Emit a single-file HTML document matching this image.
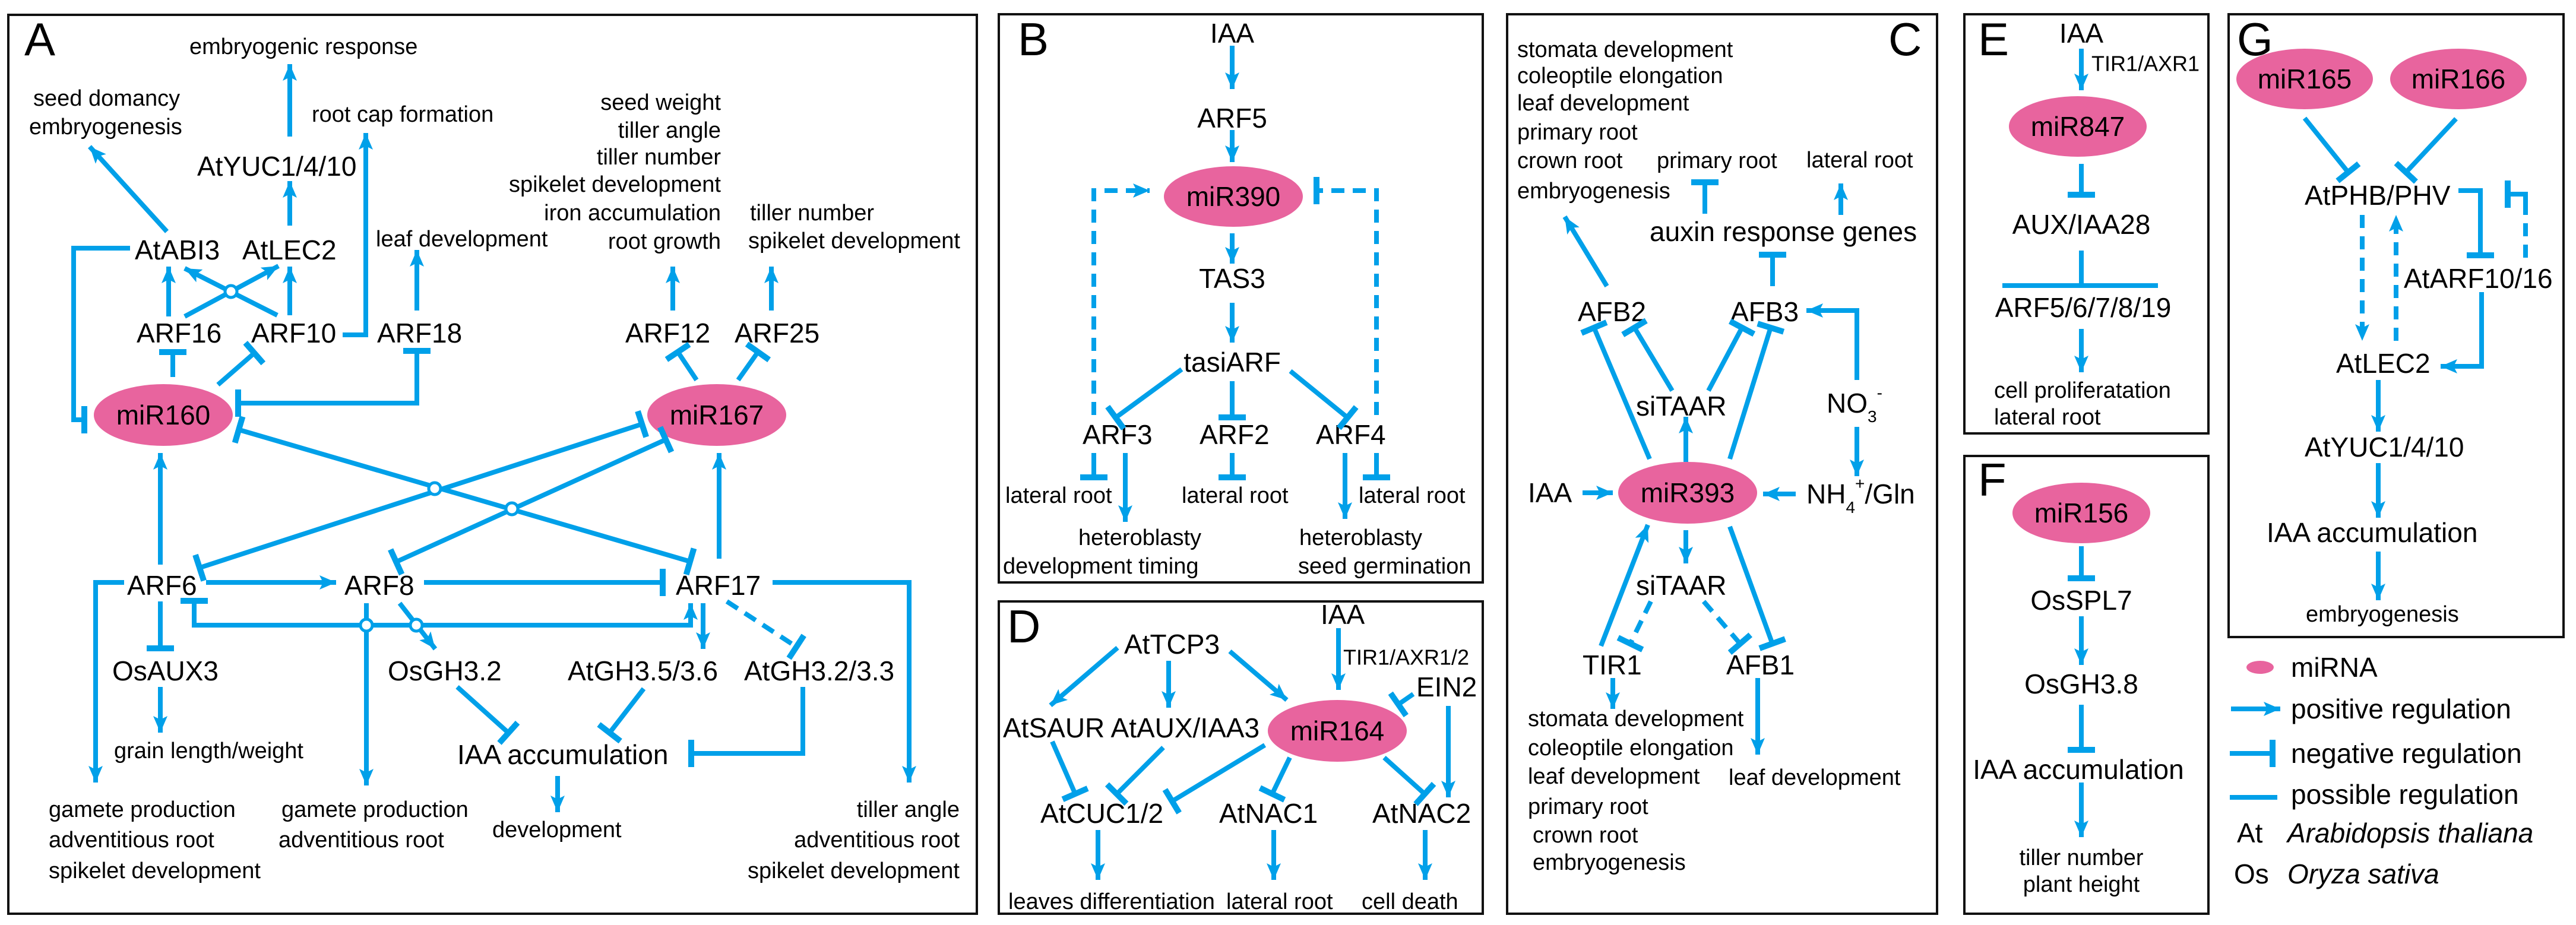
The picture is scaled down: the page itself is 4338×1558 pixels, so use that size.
<!DOCTYPE html>
<html><head><meta charset="utf-8"><style>
html,body{margin:0;padding:0;background:#fff}
svg{display:block}
text{font-family:"Liberation Sans",Arial,sans-serif;fill:#000;dominant-baseline:central}
.s{font-size:38px}.n{font-size:46px}.p{font-size:78px}
.l{stroke:#00a0e9;stroke-width:8;fill:none}
.a{marker-end:url(#ar)}.t{marker-end:url(#tb)}.ts{marker-start:url(#tb)}
.d{stroke-dasharray:22 14}
.e{fill:#e8649e}
.h{fill:#fff;stroke:#00a0e9;stroke-width:5}
.b{fill:none;stroke:#111;stroke-width:4}
</style></head><body>
<svg width="4338" height="1558" viewBox="0 0 4338 1558" xmlns="http://www.w3.org/2000/svg">
<defs>
<marker id="ar" markerUnits="userSpaceOnUse" markerWidth="30" markerHeight="26" refX="28" refY="13" orient="auto"><path d="M0,1 L28,13 L0,25 L6,13 z" fill="#00a0e9"/></marker>
<marker id="tb" markerUnits="userSpaceOnUse" markerWidth="12" markerHeight="46" refX="6" refY="23" orient="auto"><rect x="0" y="0" width="10" height="46" fill="#00a0e9"/></marker>
</defs>
<!-- borders -->
<rect class="b" x="14" y="25" width="1631" height="1514"/>
<rect class="b" x="1682" y="24" width="815" height="957"/>
<rect class="b" x="1682" y="1013" width="815" height="526"/>
<rect class="b" x="2538" y="24" width="724" height="1515"/>
<rect class="b" x="3308" y="24" width="411" height="706"/>
<rect class="b" x="3308" y="768" width="411" height="771"/>
<rect class="b" x="3753" y="24" width="564" height="1049"/>

<!-- PANEL A -->
<text class="p" x="41" y="66">A</text>
<text class="s" x="319" y="79">embryogenic response</text>
<text class="s" x="56" y="166">seed domancy</text>
<text class="s" x="49" y="214">embryogenesis</text>
<text class="s" x="525" y="193">root cap formation</text>
<text class="n" x="332" y="280">AtYUC1/4/10</text>
<text class="n" x="227" y="421">AtABI3</text>
<text class="n" x="408" y="421">AtLEC2</text>
<text class="s" x="633" y="403">leaf development</text>
<g class="s" text-anchor="end">
<text class="s" x="1214" y="173">seed weight</text>
<text class="s" x="1214" y="220">tiller angle</text>
<text class="s" x="1214" y="265">tiller number</text>
<text class="s" x="1214" y="311">spikelet development</text>
<text class="s" x="1214" y="359">iron accumulation</text>
<text class="s" x="1214" y="407">root growth</text>
</g>
<text class="s" x="1263" y="359">tiller number</text>
<text class="s" x="1260" y="406">spikelet development</text>
<text class="n" x="230" y="561">ARF16</text>
<text class="n" x="423" y="561">ARF10</text>
<text class="n" x="635" y="561">ARF18</text>
<text class="n" x="1053" y="561">ARF12</text>
<text class="n" x="1237" y="561">ARF25</text>
<ellipse class="e" cx="275" cy="699" rx="117" ry="52"/>
<text class="n" x="275" y="699" text-anchor="middle">miR160</text>
<ellipse class="e" cx="1207" cy="699" rx="117" ry="52"/>
<text class="n" x="1207" y="699" text-anchor="middle">miR167</text>
<text class="n" x="214" y="986">ARF6</text>
<text class="n" x="580" y="986">ARF8</text>
<text class="n" x="1138" y="986">ARF17</text>
<text class="n" x="189" y="1130">OsAUX3</text>
<text class="n" x="653" y="1130">OsGH3.2</text>
<text class="n" x="956" y="1130">AtGH3.5/3.6</text>
<text class="n" x="1253" y="1130">AtGH3.2/3.3</text>
<text class="s" x="192" y="1265">grain length/weight</text>
<text class="n" x="770" y="1271">IAA accumulation</text>
<text class="s" x="829" y="1398">development</text>
<text class="s" x="82" y="1364">gamete production</text>
<text class="s" x="82" y="1415">adventitious root</text>
<text class="s" x="82" y="1467">spikelet development</text>
<text class="s" x="474" y="1364">gamete production</text>
<text class="s" x="469" y="1415">adventitious root</text>
<text class="s" x="1616" y="1364" text-anchor="end">tiller angle</text>
<text class="s" x="1616" y="1415" text-anchor="end">adventitious root</text>
<text class="s" x="1616" y="1467" text-anchor="end">spikelet development</text>

<line class="l a" x1="488" y1="230" x2="488" y2="108"/>
<line class="l a" x1="488" y1="380" x2="488" y2="305"/>
<line class="l a" x1="281" y1="390" x2="151" y2="247"/>
<line class="l a" x1="284" y1="533" x2="284" y2="449"/>
<line class="l a" x1="488" y1="531" x2="488" y2="449"/>
<line class="l a" x1="311" y1="533" x2="469" y2="448"/>
<line class="l a" x1="467" y1="531" x2="311" y2="452"/>
<circle class="h" cx="389" cy="491" r="10"/>
<polyline class="l a" points="577,564 616,564 616,224"/>
<line class="l a" x1="702" y1="523" x2="702" y2="421"/>
<line class="l t" x1="291" y1="635" x2="291" y2="592"/>
<line class="l t" x1="367" y1="648" x2="429" y2="594"/>
<polyline class="l ts t" points="702,592 702,679 400,679"/>
<polyline class="l t" points="219,418 124,418 124,707 143,707"/>
<line class="l t" x1="1173" y1="640" x2="1141" y2="592"/>
<line class="l t" x1="1243" y1="640" x2="1277" y2="592"/>
<line class="l a" x1="1133" y1="523" x2="1133" y2="449"/>
<line class="l a" x1="1299" y1="523" x2="1299" y2="449"/>
<line class="l ts t" x1="403" y1="724" x2="1163" y2="946"/>
<line class="l ts t" x1="337" y1="956" x2="1082" y2="714"/>
<line class="l ts t" x1="668" y1="946" x2="1122" y2="740"/>
<circle class="h" cx="732" cy="823" r="10"/>
<circle class="h" cx="862" cy="857" r="10"/>
<line class="l a" x1="270" y1="951" x2="270" y2="763"/>
<line class="l a" x1="1211" y1="941" x2="1211" y2="763"/>
<line class="l a" x1="347" y1="981" x2="566" y2="981"/>
<line class="l t" x1="714" y1="981" x2="1117" y2="981"/>
<polyline class="l a" points="1301,981 1531,981 1531,1318"/>
<polyline class="l a" points="209,981 161,981 161,1318"/>
<polyline class="l ts a" points="327,1013 327,1053 1163,1053 1163,1016"/>
<line class="l t" x1="270" y1="1013" x2="270" y2="1093"/>
<line class="l a" x1="270" y1="1157" x2="270" y2="1234"/>
<line class="l a" x1="617" y1="1016" x2="617" y2="1323"/>
<line class="l a" x1="673" y1="1016" x2="733" y2="1093"/>
<circle class="h" cx="617" cy="1053" r="10"/>
<circle class="h" cx="701" cy="1053" r="10"/>
<line class="l a" x1="1184" y1="1016" x2="1184" y2="1093"/>
<line class="l t d" x1="1224" y1="1013" x2="1342" y2="1090"/>
<line class="l t" x1="770" y1="1157" x2="857" y2="1235"/>
<line class="l t" x1="1084" y1="1160" x2="1026" y2="1235"/>
<polyline class="l t" points="1352,1157 1352,1269 1163,1269"/>
<line class="l a" x1="939" y1="1307" x2="939" y2="1368"/>

<!-- PANEL B -->
<text class="p" x="1714" y="66">B</text>
<g text-anchor="middle">
<text class="n" x="2075" y="56" text-anchor="middle">IAA</text>
<text class="n" x="2075" y="199" text-anchor="middle">ARF5</text>
<ellipse class="e" cx="2077" cy="331" rx="117" ry="51"/>
<text class="n" x="2077" y="331" text-anchor="middle">miR390</text>
<text class="n" x="2075" y="469" text-anchor="middle">TAS3</text>
<text class="n" x="2075" y="610" text-anchor="middle">tasiARF</text>
</g>
<text class="n" x="1823" y="732">ARF3</text>
<text class="n" x="2020" y="732">ARF2</text>
<text class="n" x="2216" y="732">ARF4</text>
<text class="s" x="1693" y="835">lateral root</text>
<text class="s" x="1990" y="835">lateral root</text>
<text class="s" x="2288" y="835">lateral root</text>
<text class="s" x="1816" y="906">heteroblasty</text>
<text class="s" x="1689" y="954">development timing</text>
<text class="s" x="2188" y="906">heteroblasty</text>
<text class="s" x="2186" y="954">seed germination</text>
<line class="l a" x1="2075" y1="77" x2="2075" y2="150"/>
<line class="l a" x1="2075" y1="219" x2="2075" y2="273"/>
<line class="l a" x1="2075" y1="393" x2="2075" y2="444"/>
<line class="l a" x1="2075" y1="510" x2="2075" y2="577"/>
<line class="l t" x1="1990" y1="622" x2="1878" y2="704"/>
<line class="l t" x1="2075" y1="642" x2="2075" y2="704"/>
<line class="l t" x1="2173" y1="625" x2="2270" y2="704"/>
<polyline class="l a d" points="1842,699 1842,321 1936,321"/>
<polyline class="l t d" points="2318,699 2318,321 2216,321"/>
<line class="l t" x1="1842" y1="763" x2="1842" y2="805"/>
<line class="l a" x1="1895" y1="763" x2="1895" y2="879"/>
<line class="l t" x1="2075" y1="763" x2="2075" y2="805"/>
<line class="l a" x1="2265" y1="763" x2="2265" y2="874"/>
<line class="l t" x1="2318" y1="763" x2="2318" y2="805"/>

<!-- PANEL D -->
<text class="p" x="1696" y="1055">D</text>
<text class="n" x="2224" y="1035">IAA</text>
<text x="2262" y="1107" font-size="36">TIR1/AXR1/2</text>
<text class="n" x="2385" y="1157">EIN2</text>
<text class="n" x="1893" y="1085">AtTCP3</text>
<text class="n" x="1689" y="1226">AtSAUR AtAUX/IAA3</text>
<ellipse class="e" cx="2252" cy="1231" rx="117" ry="52"/>
<text class="n" x="2252" y="1231" text-anchor="middle">miR164</text>
<text class="n" x="1752" y="1370">AtCUC1/2</text>
<text class="n" x="2053" y="1370">AtNAC1</text>
<text class="n" x="2311" y="1370">AtNAC2</text>
<text class="s" x="1698" y="1519">leaves differentiation</text>
<text class="s" x="2065" y="1519">lateral root</text>
<text class="s" x="2293" y="1519">cell death</text>
<line class="l a" x1="2254" y1="1058" x2="2254" y2="1162"/>
<line class="l t" x1="2380" y1="1169" x2="2354" y2="1187"/>
<line class="l a" x1="2439" y1="1189" x2="2439" y2="1343"/>
<line class="l a" x1="1882" y1="1091" x2="1769" y2="1188"/>
<line class="l a" x1="1968" y1="1113" x2="1968" y2="1192"/>
<line class="l a" x1="2071" y1="1097" x2="2167" y2="1179"/>
<line class="l t" x1="1772" y1="1249" x2="1811" y2="1338"/>
<line class="l t" x1="1959" y1="1259" x2="1880" y2="1338"/>
<line class="l t" x1="2130" y1="1255" x2="1973" y2="1350"/>
<line class="l t" x1="2172" y1="1276" x2="2142" y2="1338"/>
<line class="l t" x1="2331" y1="1276" x2="2400" y2="1338"/>
<line class="l a" x1="1849" y1="1398" x2="1849" y2="1482"/>
<line class="l a" x1="2145" y1="1398" x2="2145" y2="1482"/>
<line class="l a" x1="2400" y1="1398" x2="2400" y2="1482"/>

<!-- PANEL C -->
<text class="p" x="3180" y="66">C</text>
<text class="s" x="2555" y="84">stomata development</text>
<text class="s" x="2555" y="128">coleoptile elongation</text>
<text class="s" x="2555" y="174">leaf development</text>
<text class="s" x="2555" y="223">primary root</text>
<text class="s" x="2555" y="271">crown root</text>
<text class="s" x="2555" y="322">embryogenesis</text>
<text class="s" x="2790" y="271">primary root</text>
<text class="s" x="3042" y="270">lateral root</text>
<text class="n" x="2778" y="390">auxin response genes</text>
<text class="n" x="2657" y="525">AFB2</text>
<text class="n" x="2914" y="525">AFB3</text>
<text class="n" x="2755" y="684">siTAAR</text>
<text class="n" x="3076" y="679">NO<tspan font-size="28" dy="22">3</tspan><tspan font-size="28" dy="-40">-</tspan></text>
<text class="n" x="2573" y="830">IAA</text>
<ellipse class="e" cx="2842" cy="830" rx="117" ry="52"/>
<text class="n" x="2842" y="830" text-anchor="middle">miR393</text>
<text class="n" x="3042" y="832">NH<tspan font-size="28" dy="22">4</tspan><tspan font-size="28" dy="-40">+</tspan><tspan dy="18">/Gln</tspan></text>
<text class="n" x="2755" y="986">siTAAR</text>
<text class="n" x="2665" y="1120">TIR1</text>
<text class="n" x="2907" y="1120">AFB1</text>
<text class="s" x="2573" y="1211">stomata development</text>
<text class="s" x="2573" y="1260">coleoptile elongation</text>
<text class="s" x="2573" y="1308">leaf development</text>
<text class="s" x="2573" y="1359">primary root</text>
<text class="s" x="2581" y="1407">crown root</text>
<text class="s" x="2581" y="1453">embryogenesis</text>
<text class="s" x="2911" y="1310">leaf development</text>
<line class="l t" x1="2871" y1="360" x2="2871" y2="306"/>
<line class="l a" x1="3100" y1="362" x2="3100" y2="309"/>
<line class="l t" x1="2985" y1="482" x2="2985" y2="428"/>
<line class="l a" x1="2706" y1="482" x2="2635" y2="365"/>
<polyline class="l a" points="3127,640 3127,523 3042,523"/>
<line class="l a" x1="3127" y1="719" x2="3127" y2="802"/>
<line class="l a" x1="3024" y1="832" x2="2969" y2="832"/>
<line class="l a" x1="2665" y1="830" x2="2716" y2="830"/>
<line class="l a" x1="2839" y1="778" x2="2839" y2="702"/>
<line class="l t" x1="2778" y1="773" x2="2684" y2="551"/>
<line class="l t" x1="2816" y1="658" x2="2752" y2="551"/>
<line class="l t" x1="2877" y1="658" x2="2934" y2="551"/>
<line class="l t" x1="2913" y1="773" x2="2982" y2="551"/>
<line class="l a" x1="2839" y1="893" x2="2839" y2="949"/>
<line class="l a" x1="2696" y1="1088" x2="2775" y2="884"/>
<line class="l t d" x1="2780" y1="1013" x2="2745" y2="1085"/>
<line class="l t d" x1="2869" y1="1013" x2="2931" y2="1085"/>
<line class="l t" x1="2913" y1="887" x2="2985" y2="1085"/>
<line class="l a" x1="2716" y1="1142" x2="2716" y2="1194"/>
<line class="l a" x1="2960" y1="1142" x2="2960" y2="1271"/>

<!-- PANEL E -->
<text class="p" x="3331" y="66">E</text>
<text class="n" x="3505" y="56" text-anchor="middle">IAA</text>
<text x="3522" y="107" font-size="36">TIR1/AXR1</text>
<ellipse class="e" cx="3499" cy="213" rx="116" ry="51"/>
<text class="n" x="3499" y="213" text-anchor="middle">miR847</text>
<text class="n" x="3505" y="378" text-anchor="middle">AUX/IAA28</text>
<text class="n" x="3508" y="518" text-anchor="middle">ARF5/6/7/8/19</text>
<text class="s" x="3358" y="658">cell proliferatation</text>
<text class="s" x="3358" y="703">lateral root</text>
<line class="l a" x1="3505" y1="82" x2="3505" y2="152"/>
<line class="l t" x1="3505" y1="276" x2="3505" y2="329"/>
<line class="l" x1="3505" y1="422" x2="3505" y2="481"/>
<line class="l" x1="3372" y1="481" x2="3634" y2="481"/>
<line class="l a" x1="3505" y1="554" x2="3505" y2="627"/>

<!-- PANEL F -->
<text class="p" x="3331" y="808">F</text>
<ellipse class="e" cx="3505" cy="864" rx="116" ry="51"/>
<text class="n" x="3505" y="864" text-anchor="middle">miR156</text>
<text class="n" x="3505" y="1011" text-anchor="middle">OsSPL7</text>
<text class="n" x="3505" y="1152" text-anchor="middle">OsGH3.8</text>
<text class="n" x="3500" y="1296" text-anchor="middle">IAA accumulation</text>
<text class="s" x="3505" y="1445" text-anchor="middle">tiller number</text>
<text class="s" x="3505" y="1490" text-anchor="middle">plant height</text>
<line class="l t" x1="3505" y1="920" x2="3505" y2="975"/>
<line class="l a" x1="3505" y1="1038" x2="3505" y2="1120"/>
<line class="l t" x1="3505" y1="1187" x2="3505" y2="1264"/>
<line class="l a" x1="3505" y1="1318" x2="3505" y2="1410"/>

<!-- PANEL G -->
<ellipse class="e" cx="3881" cy="133" rx="115" ry="51"/>
<text class="n" x="3881" y="133" text-anchor="middle">miR165</text>
<ellipse class="e" cx="4140" cy="133" rx="115" ry="51"/>
<text class="n" x="4140" y="133" text-anchor="middle">miR166</text>
<text class="p" x="3767" y="66">G</text>
<text class="n" x="3881" y="329">AtPHB/PHV</text>
<text class="n" x="4048" y="469">AtARF10/16</text>
<text class="n" x="3934" y="612">AtLEC2</text>
<text class="n" x="3881" y="753">AtYUC1/4/10</text>
<text class="n" x="3817" y="897">IAA accumulation</text>
<text class="s" x="3883" y="1035">embryogenesis</text>
<line class="l t" x1="3881" y1="199" x2="3955" y2="291"/>
<line class="l t" x1="4136" y1="200" x2="4051" y2="291"/>
<polyline class="l t" points="4140,321 4177,321 4177,431"/>
<line class="l d" x1="4253" y1="434" x2="4253" y2="335"/>
<polyline class="l t" points="4253,340 4253,327 4222,327"/>
<line class="l a d" x1="3978" y1="362" x2="3978" y2="574"/>
<line class="l a d" x1="4035" y1="574" x2="4035" y2="362"/>
<polyline class="l a" points="4179,492 4179,617 4110,617"/>
<line class="l a" x1="4005" y1="640" x2="4005" y2="727"/>
<line class="l a" x1="4005" y1="780" x2="4005" y2="872"/>
<line class="l a" x1="4005" y1="929" x2="4005" y2="1011"/>

<!-- LEGEND -->
<ellipse class="e" cx="3806" cy="1124" rx="23" ry="11"/>
<text class="n" x="3858" y="1124">miRNA</text>
<line class="l a" x1="3757" y1="1194" x2="3840" y2="1194"/>
<text class="n" x="3858" y="1194">positive regulation</text>
<line class="l t" x1="3755" y1="1269" x2="3828" y2="1269"/>
<text class="n" x="3858" y="1269">negative regulation</text>
<line class="l" x1="3755" y1="1343" x2="3835" y2="1343"/>
<text class="n" x="3858" y="1338">possible regulation</text>
<text class="n" x="3767" y="1403">At</text>
<text class="n" x="3852" y="1403" font-style="italic">Arabidopsis thaliana</text>
<text class="n" x="3762" y="1472">Os</text>
<text class="n" x="3852" y="1472" font-style="italic">Oryza sativa</text>
</svg>
</body></html>
